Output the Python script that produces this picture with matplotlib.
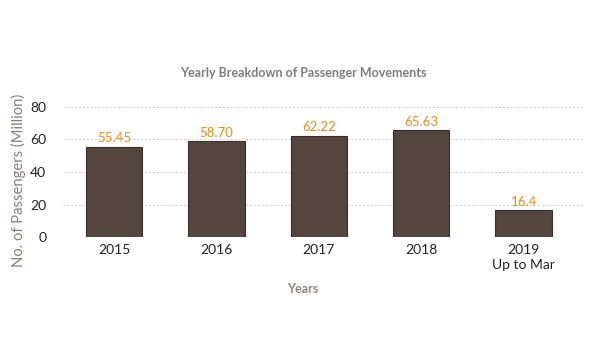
import matplotlib
matplotlib.use("Agg")
import matplotlib.pyplot as plt

categories = ["2015", "2016", "2017", "2018", "2019\nUp to Mar"]
values = [55.45, 58.70, 62.22, 65.63, 16.4]
value_labels = ["55.45", "58.70", "62.22", "65.63", "16.4"]
yticks = [0, 20, 40, 60, 80]

plt.rcParams['font.family'] = ['Lato', 'DejaVu Sans']

fig = plt.figure(figsize=(6, 3.6), dpi=100)
ax = fig.add_axes([0.105, 0.341, 0.870, 0.3626])

x = list(range(len(categories)))
bars = ax.bar(x, values, width=0.55, color="#54463f", edgecolor="#3a2f2a", linewidth=0.8, zorder=3)
for xi, v, lab in zip(x, values, value_labels):
    ax.text(xi, v + 1.5, lab, ha="center", va="bottom", color="#f08a1c", fontsize=9.5, zorder=4)

ax.set_xlim(-0.5, 4.6)
ax.set_ylim(0, 80)
ax.set_yticks(yticks)
ax.set_xticks(x)
ax.set_xticklabels(categories, fontsize=10, color="#222222", linespacing=1.3)
ax.tick_params(axis="y", labelsize=10, labelcolor="#222222", length=0, pad=12)
ax.tick_params(axis="x", length=0, pad=5)
ax.yaxis.grid(True, linestyle=(0, (2, 2)), color="#d0d0d0", linewidth=0.7, zorder=0)
for s in ax.spines.values():
    s.set_visible(False)

fig.text(0.506, 0.797, "Yearly Breakdown of Passenger Movements", ha="center", va="center",
         fontsize=9, color="#7d7d7d", fontweight="bold")
fig.text(0.505, 0.197, "Years", ha="center", va="center", fontsize=9, color="#8a8580", fontweight="bold")
fig.text(0.03, 0.5, "No. of Passengers (Million)", ha="center", va="center", rotation=90,
         fontsize=10.6, color="#8a7d78")

fig.savefig("out.png", dpi=100)
